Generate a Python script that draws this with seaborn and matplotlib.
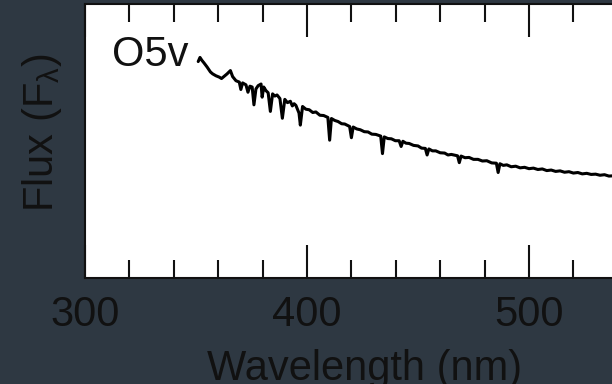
import matplotlib
matplotlib.use("Agg")
import matplotlib.pyplot as plt
import seaborn as sns
from matplotlib.ticker import MultipleLocator, FixedLocator, NullLocator

# Spectrum of an O5v star (wavelength in nm, relative flux F_lambda)
wavelength = [351.0, 351.8, 352.6, 353.6, 355.0, 356.5, 357.5, 359.0, 360.5, 361.5,
              362.5, 364.0, 365.5, 366.5, 368.0, 369.5, 370.2, 371.0, 372.5, 373.4,
              374.3, 375.3, 376.1, 377.0, 378.0, 379.3, 379.8, 380.5, 381.5, 382.5,
              383.5, 384.5, 385.5, 386.5, 387.8, 388.9, 390.0, 391.2, 392.5, 393.4,
              394.2, 395.0, 396.4, 397.0, 398.0, 399.5, 401.0, 402.6, 404.0, 405.8,
              407.5, 409.4, 410.2, 411.0, 412.5, 414.0, 415.6, 417.0, 419.2, 420.0,
              420.8, 422.4, 424.0, 425.8, 427.5, 429.2, 431.0, 433.2, 434.0, 434.8,
              436.4, 438.0, 439.8, 441.5, 442.4, 443.2, 444.6, 446.0, 448.0, 450.0,
              451.6, 453.3, 454.1, 454.9, 456.5, 458.0, 460.0, 462.0, 463.5, 465.0,
              467.8, 468.6, 469.4, 471.2, 473.0, 475.0, 477.0, 479.0, 481.0, 483.2,
              485.3, 486.1, 486.9, 488.4, 490.0, 492.0, 494.0, 496.0, 498.0, 500.0,
              502.0, 504.0, 506.0, 508.0, 510.0, 512.0, 514.0, 516.0, 518.0, 520.0,
              522.0, 524.0, 526.0, 528.0, 530.0, 532.0, 534.0, 536.0, 538.0, 545.0]
flux = [0.790, 0.805, 0.795, 0.785, 0.770, 0.752, 0.745, 0.738, 0.733, 0.728,
        0.735, 0.745, 0.757, 0.735, 0.720, 0.715, 0.688, 0.712, 0.705, 0.678,
        0.700, 0.697, 0.632, 0.690, 0.702, 0.708, 0.660, 0.697, 0.684, 0.676,
        0.608, 0.672, 0.664, 0.668, 0.655, 0.583, 0.652, 0.640, 0.645, 0.628,
        0.636, 0.630, 0.602, 0.558, 0.626, 0.616, 0.614, 0.604, 0.606, 0.594,
        0.593, 0.586, 0.503, 0.582, 0.575, 0.571, 0.563, 0.562, 0.553, 0.512,
        0.551, 0.544, 0.541, 0.534, 0.533, 0.525, 0.524, 0.518, 0.454, 0.515,
        0.509, 0.508, 0.501, 0.501, 0.480, 0.499, 0.492, 0.491, 0.484, 0.482,
        0.474, 0.473, 0.449, 0.471, 0.464, 0.464, 0.457, 0.456, 0.449, 0.451,
        0.446, 0.421, 0.445, 0.439, 0.440, 0.433, 0.433, 0.427, 0.428, 0.420,
        0.419, 0.385, 0.417, 0.411, 0.413, 0.406, 0.408, 0.402, 0.404, 0.399,
        0.401, 0.396, 0.398, 0.392, 0.394, 0.389, 0.391, 0.386, 0.388, 0.383,
        0.385, 0.380, 0.382, 0.378, 0.379, 0.375, 0.377, 0.372, 0.373, 0.367]

star_label = "O5v"
x_label = "Wavelength (nm)"
y_label = r"Flux (F$_\lambda$)"
x_major = [300, 400, 500]

sns.set_theme(style="ticks")
plt.rcParams["font.family"] = ["Liberation Sans", "DejaVu Sans"]
plt.rcParams["mathtext.fontset"] = "custom"
plt.rcParams["mathtext.rm"] = "Liberation Sans"
plt.rcParams["mathtext.it"] = "Liberation Sans"

bg = "#2e3842"
ink = "#111111"
W, H = 612, 384
fig = plt.figure(figsize=(W / 100, H / 100), dpi=100, facecolor=bg)
ax = fig.add_axes([85 / W, 106 / H, 888 / W, 274 / H])
ax.set_facecolor("white")

sns.lineplot(x=wavelength, y=flux, ax=ax, color="black", linewidth=2.2)

ax.set_xlim(300, 700)
ax.set_ylim(0, 1)
ax.xaxis.set_major_locator(FixedLocator(x_major))
ax.xaxis.set_minor_locator(MultipleLocator(20))
ax.yaxis.set_major_locator(NullLocator())
ax.yaxis.set_minor_locator(NullLocator())
ax.tick_params(axis="x", which="both", direction="in", top=True, bottom=True,
               color=ink, width=1.5, labelsize=30, labelcolor=ink, pad=12)
ax.tick_params(axis="x", which="major", length=24)
ax.tick_params(axis="x", which="minor", length=13)
for s in ax.spines.values():
    s.set_color(ink)
    s.set_linewidth(1.5)

ax.text(312, 0.815, star_label, fontsize=30, color=ink, va="center", ha="left")

ax.set_xlabel(x_label, fontsize=30, color=ink)
ax.xaxis.set_label_coords(365 / W, (H - 349) / H, transform=fig.transFigure)
ax.xaxis.label.set_va("top")
ax.set_ylabel(y_label, fontsize=30, color=ink)
ax.yaxis.set_label_coords(42 / W, (H - 133) / H, transform=fig.transFigure)
ax.yaxis.label.set_va("center")

fig.savefig("out.png", dpi=100, facecolor=bg)
